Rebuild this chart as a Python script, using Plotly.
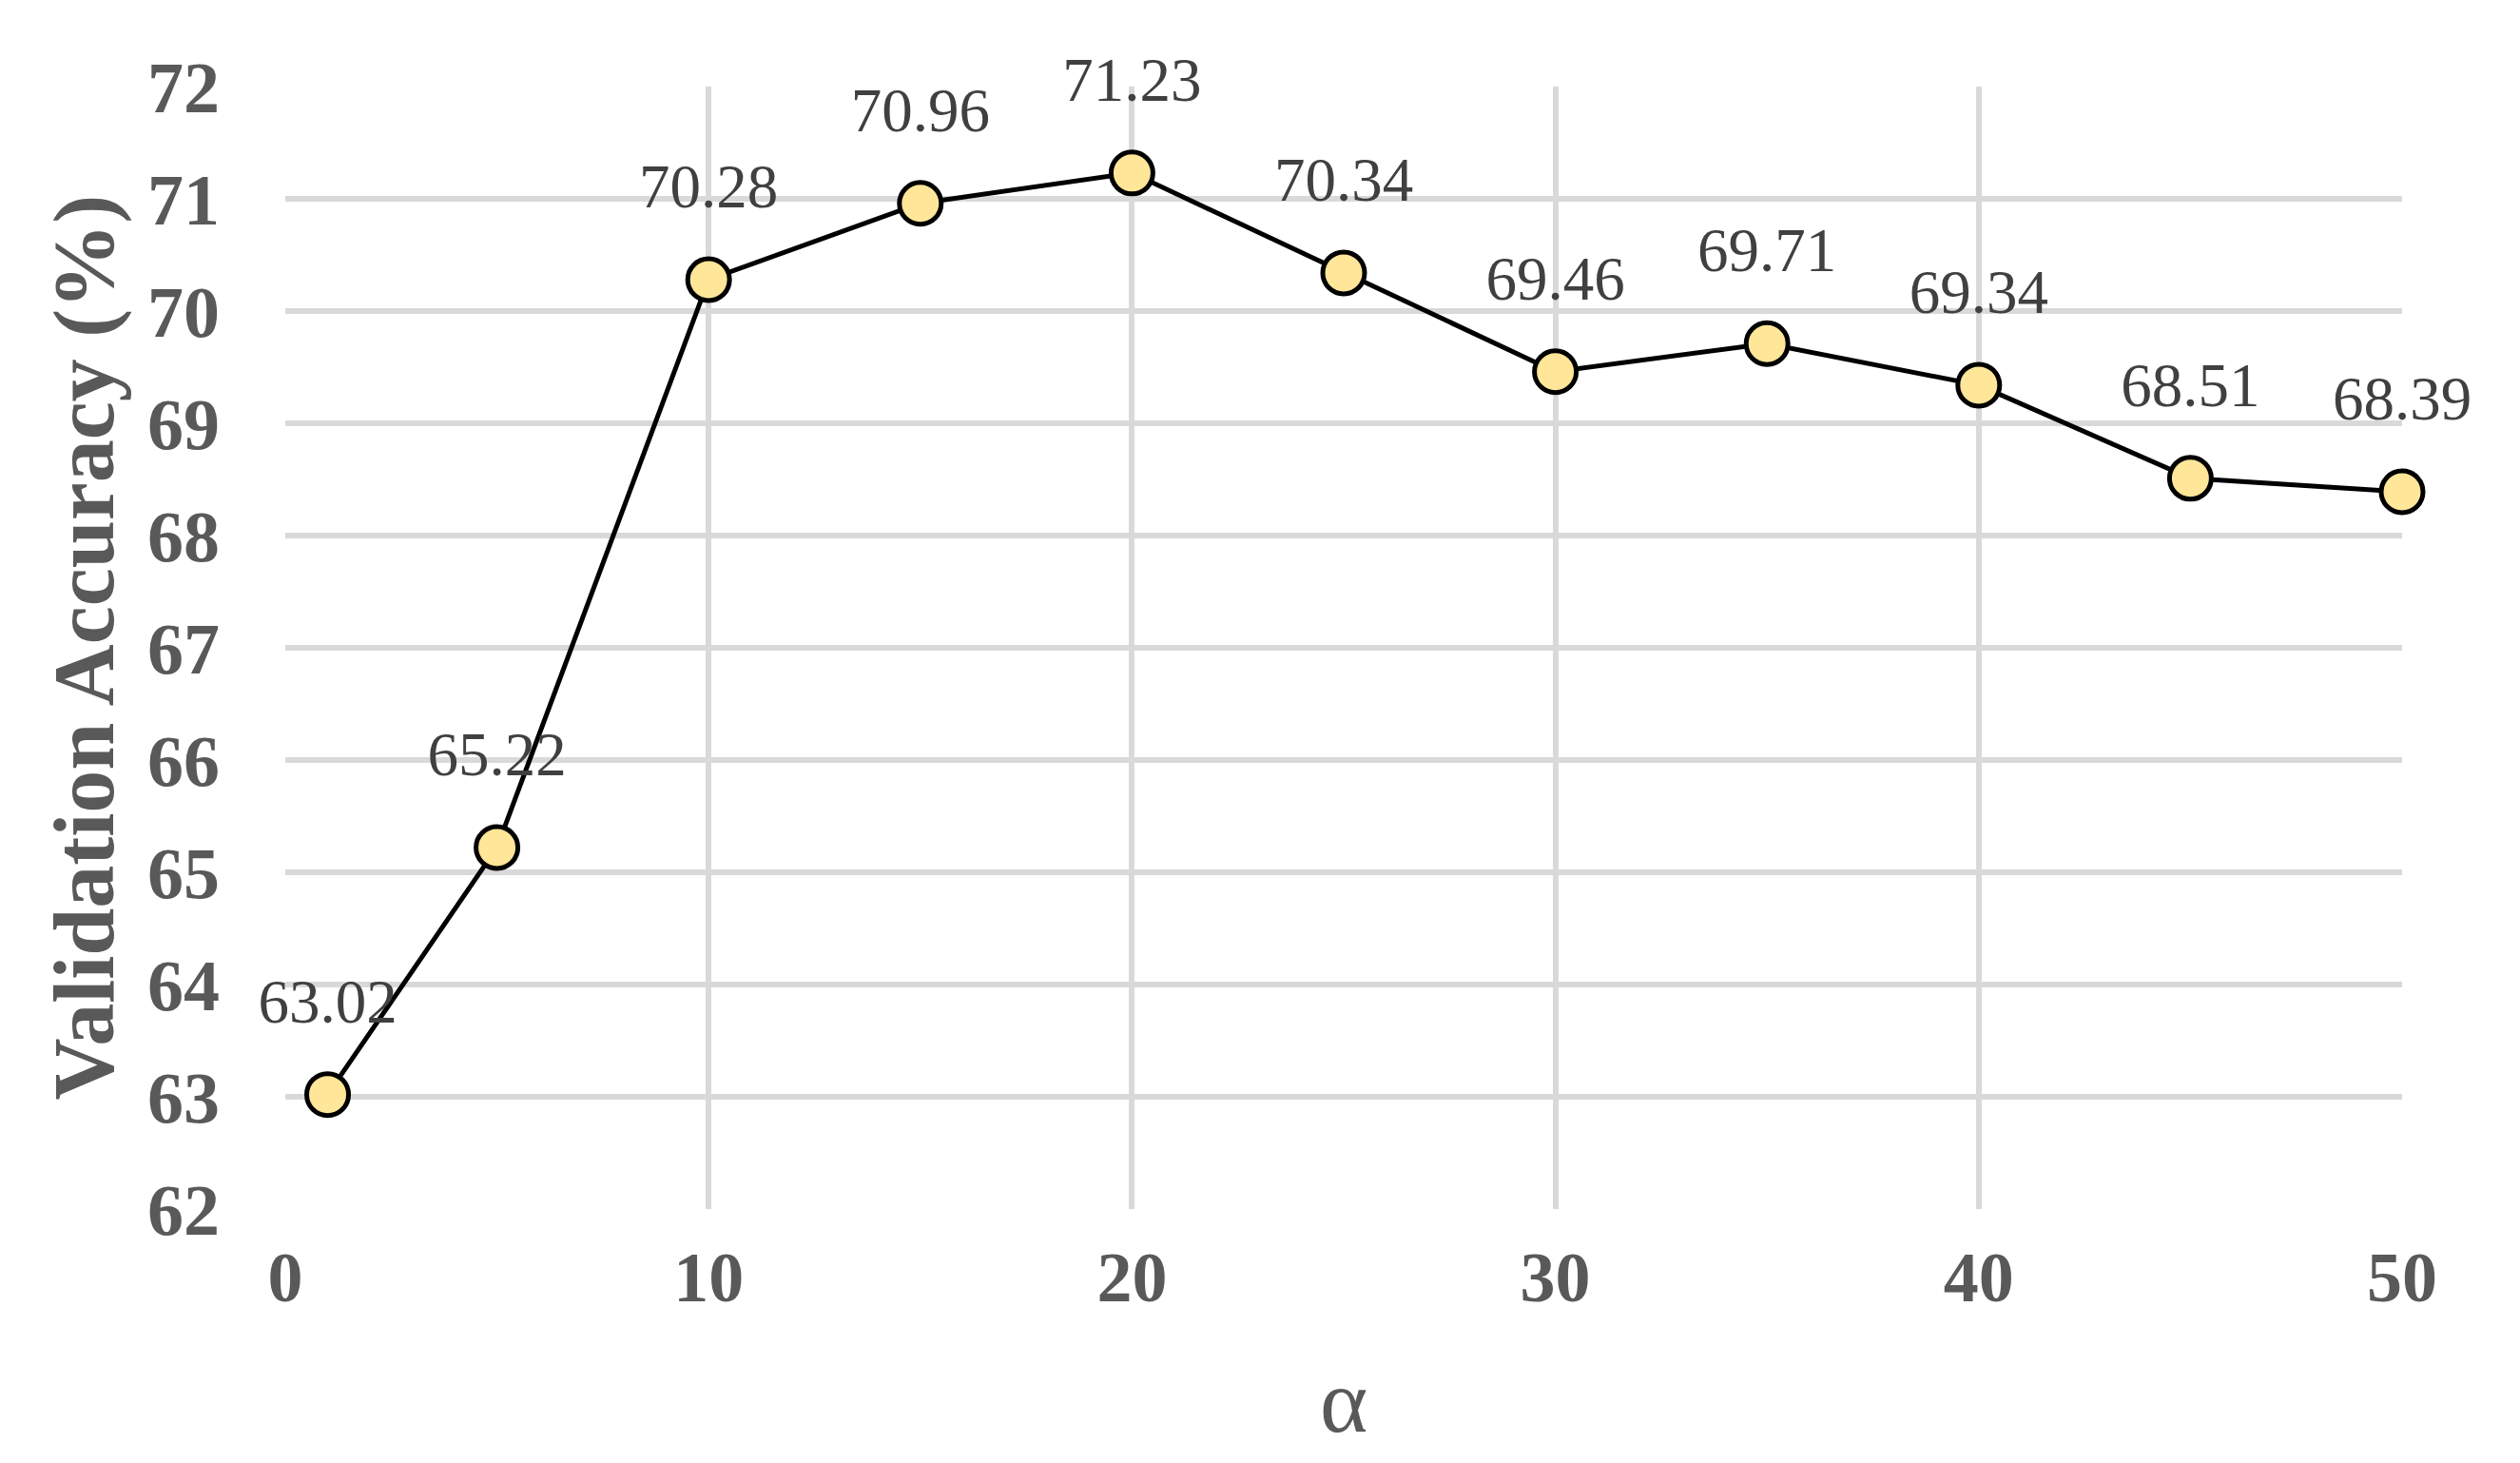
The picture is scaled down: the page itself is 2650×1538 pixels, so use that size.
import plotly.graph_objects as go

alpha = [1, 5, 10, 15, 20, 25, 30, 35, 40, 45, 50]
accuracy = [63.02, 65.22, 70.28, 70.96, 71.23, 70.34, 69.46, 69.71, 69.34, 68.51, 68.39]
x_ticks = [0, 10, 20, 30, 40, 50]
y_ticks = [62, 63, 64, 65, 66, 67, 68, 69, 70, 71, 72]

FONT = "Liberation Serif"
GRID = "#d9d9d9"
TEXT = "#595959"

fig = go.Figure()
fig.add_trace(
    go.Scatter(
        x=alpha,
        y=accuracy,
        mode="lines+markers",
        line=dict(color="#000000", width=5),
        marker=dict(size=44, color="#ffe699", line=dict(color="#000000", width=5)),
        cliponaxis=False,
        showlegend=False,
    )
)
# value labels sit higher than the marker, so an invisible, larger marker pushes them up
fig.add_trace(
    go.Scatter(
        x=alpha,
        y=accuracy,
        mode="markers+text",
        marker=dict(size=94, color="rgba(0,0,0,0)"),
        text=[f"{v:.2f}" for v in accuracy],
        textposition="top center",
        textfont=dict(family=FONT, size=65, color="#404040"),
        cliponaxis=False,
        showlegend=False,
        hoverinfo="skip",
    )
)

fig.update_xaxes(
    range=[0, 50],
    tickvals=x_ticks,
    showgrid=True,
    gridcolor=GRID,
    gridwidth=6,
    zeroline=False,
    showline=False,
    tickfont=dict(family=FONT, size=74, color=TEXT, weight="bold"),
    ticklabelstandoff=22,
)
fig.update_yaxes(
    range=[62, 72],
    tickvals=y_ticks,
    showgrid=True,
    gridcolor=GRID,
    gridwidth=6,
    zeroline=False,
    showline=False,
    tickfont=dict(family=FONT, size=76, color=TEXT, weight="bold"),
    ticklabelstandoff=68,
)

fig.add_annotation(
    text="Validation Accuracy (%)",
    xref="paper", yref="paper",
    x=-0.095, y=0.5,
    xanchor="center", yanchor="middle",
    textangle=-90,
    showarrow=False,
    font=dict(family=FONT, size=90, color=TEXT, weight="bold"),
)
fig.add_annotation(
    text="α",
    xref="paper", yref="paper",
    x=0.5, y=-0.171,
    xanchor="center", yanchor="middle",
    showarrow=False,
    font=dict(family=FONT, size=96, color=TEXT),
)

fig.update_layout(
    width=2650,
    height=1538,
    plot_bgcolor="#ffffff",
    paper_bgcolor="#ffffff",
    margin=dict(l=292, r=132, t=83, b=275, autoexpand=False),
)

fig.write_html("out.html")
